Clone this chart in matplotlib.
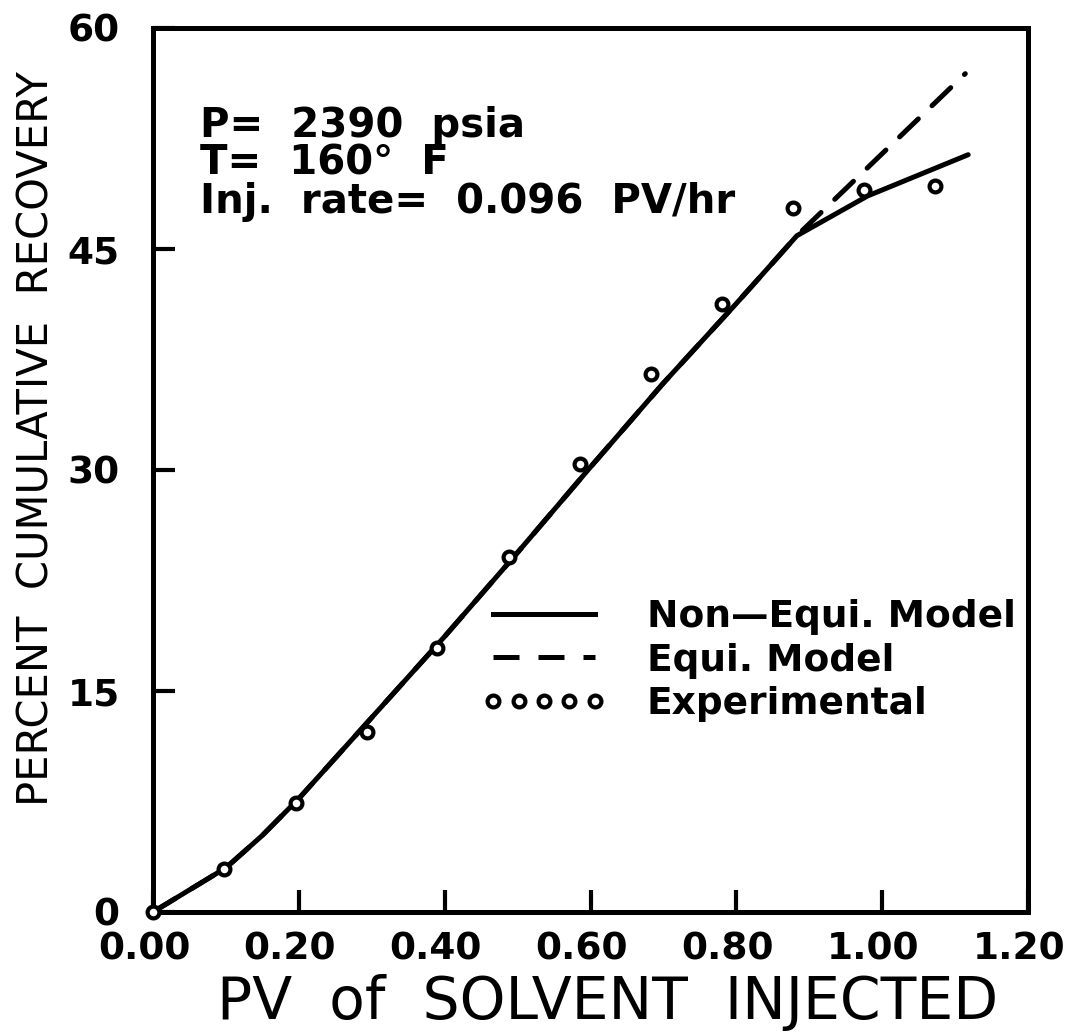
import matplotlib
matplotlib.use("Agg")
import matplotlib.pyplot as plt
import matplotlib.transforms as mtransforms
from matplotlib.lines import Line2D

plt.rcParams['font.family'] = ['DejaVu Sans']

# pore volumes of solvent injected and percent cumulative recovery
pv_exp = [0.0, 0.098, 0.196, 0.293, 0.390, 0.488, 0.586, 0.683, 0.780, 0.878, 0.975, 1.073]
rec_exp = [0.0, 2.9, 7.4, 12.2, 17.9, 24.1, 30.4, 36.5, 41.3, 47.8, 49.0, 49.3]

pv_non = [0.0, 0.05, 0.10, 0.15, 0.20, 0.30, 0.40, 0.50, 0.60, 0.70, 0.80, 0.883, 0.98, 1.118]
rec_non = [0.0, 1.5, 3.0, 5.2, 7.7, 13.2, 18.7, 24.4, 30.2, 35.9, 41.3, 45.9, 48.6, 51.4]

pv_equi = [0.0, 0.05, 0.10, 0.15, 0.20, 0.30, 0.40, 0.50, 0.60, 0.70, 0.80, 0.883, 1.114]
rec_equi = [0.0, 1.5, 3.0, 5.2, 7.7, 13.2, 18.7, 24.4, 30.2, 35.9, 41.3, 45.9, 56.9]

x_ticks = [0.0, 0.2, 0.4, 0.6, 0.8, 1.0, 1.2]
x_labels = ['0.00', '0.20', '0.40', '0.60', '0.80', '1.00', '1.20']
y_ticks = [0, 15, 30, 45, 60]

conditions = ['P=  2390  psia', 'T=  160\u00b0  F', 'Inj.  rate=  0.096  PV/hr']
series_names = ['Non\u2014Equi. Model', 'Equi. Model', 'Experimental']

W, H = 1075, 1035
fig = plt.figure(figsize=(W / 100, H / 100), dpi=100)
ax = fig.add_axes([153 / W, 1 - 912 / H, 875 / W, 884 / H])

lw = 3.6
dash = (0, (5.2, 3.8))
mk = dict(marker='o', markersize=8.5, markerfacecolor='white',
          markeredgecolor='black', markeredgewidth=3.0)

ax.plot(pv_non, rec_non, color='black', lw=lw, solid_capstyle='round')
ax.plot(pv_equi, rec_equi, color='black', lw=lw, linestyle=dash,
        dash_capstyle='round')
ax.plot(pv_exp, rec_exp, linestyle='none', clip_on=False, zorder=5, **mk)

ax.set_xlim(0, 1.2)
ax.set_ylim(0, 60)
ax.set_xticks(x_ticks)
ax.set_xticklabels(x_labels)
ax.set_yticks(y_ticks)
ax.tick_params(direction='in', length=16, width=3, labelsize=27)
ax.tick_params(axis='x', pad=14)
ax.tick_params(axis='y', pad=24)

# x tick labels sit a little left of their ticks
shift = mtransforms.ScaledTranslation(-9 / 100, 0, fig.dpi_scale_trans)
for lab in ax.get_xticklabels():
    lab.set_transform(lab.get_transform() + shift)
for lab in ax.get_xticklabels() + ax.get_yticklabels():
    lab.set_fontweight('bold')
for sp in ax.spines.values():
    sp.set_linewidth(3.6)

ax.set_xlabel('PV  of  SOLVENT  INJECTED', fontsize=42)
ax.xaxis.set_label_coords(0.52, -0.07)
ax.set_ylabel('PERCENT  CUMULATIVE  RECOVERY', fontsize=30)
ax.yaxis.set_label_coords(-0.109, 0.535)

# run conditions in the upper left corner
for i, line in enumerate(conditions):
    ax.text(0.054, 0.877 - i * 0.043, line, fontsize=29, fontweight='bold',
            va='baseline', transform=ax.transAxes)

handles = [
    Line2D([], [], color='black', lw=lw),
    Line2D([], [], color='black', lw=lw, linestyle=dash),
    Line2D([], [], linestyle='none', **mk),
]
ax.legend(handles, series_names, loc='upper left', bbox_to_anchor=(0.376, 0.354),
          frameon=False, prop=dict(size=27, weight='bold'), numpoints=5,
          handlelength=3.3, handletextpad=1.1, labelspacing=0.2,
          borderpad=0, borderaxespad=0)

fig.savefig('out.png', dpi=100)
